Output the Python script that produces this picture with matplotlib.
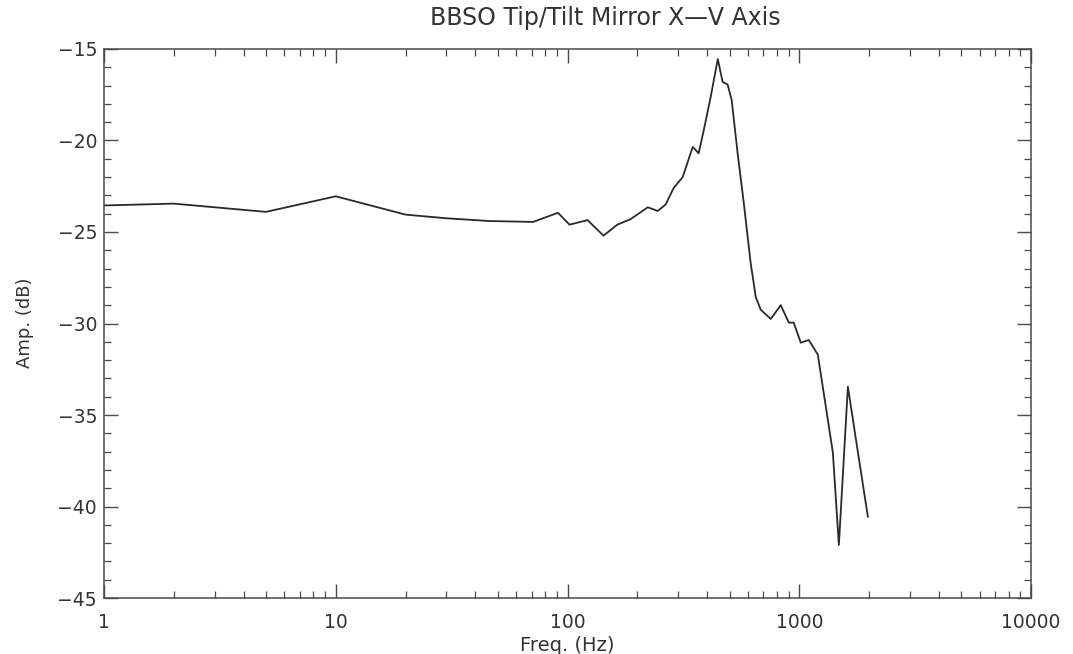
import matplotlib
matplotlib.use("Agg")
import matplotlib.pyplot as plt
from matplotlib.ticker import LogLocator, FixedLocator, MultipleLocator, NullFormatter

# Data
freq_hz = [1, 2, 5, 10, 20, 30, 46, 71, 91, 102, 122, 143, 164, 187, 222, 245, 265,
           287, 314, 347, 368, 387, 415, 445, 467, 491, 511, 542, 576, 617, 649, 682,
           753, 832, 901, 946, 1015, 1099, 1202, 1302, 1396, 1482, 1621, 1791, 1977]
amp_db = [-23.55, -23.45, -23.9, -23.05, -24.05, -24.25, -24.4, -24.45, -23.95, -24.6,
          -24.35, -25.2, -24.6, -24.3, -23.65, -23.85, -23.5,
          -22.6, -22.0, -20.35, -20.7, -19.45, -17.6, -15.55, -16.8, -16.95, -17.8,
          -20.7, -23.4, -26.7, -28.55, -29.25,
          -29.75, -29.0, -29.95, -29.95, -31.05, -30.9, -31.7, -34.55, -37.05, -42.1,
          -33.45, -37.05, -40.55]

x_major = [1, 10, 100, 1000, 10000]
x_labels = ["1", "10", "100", "1000", "10000"]
y_major = [-45, -40, -35, -30, -25, -20, -15]
y_labels = ["\u221245", "\u221240", "\u221235", "\u221230", "\u221225", "\u221220", "\u221215"]

title = "BBSO Tip/Tilt Mirror X\u2014V Axis"
xlabel = "Freq. (Hz)"
ylabel = "Amp. (dB)"

ink = "#2a2a2a"
axis_col = "#4a4a4a"

fig = plt.figure(figsize=(10.73, 6.54), dpi=100)
ax = fig.add_axes([0.0969, 0.0856, 0.864, 0.8395])

ax.plot(freq_hz, amp_db, color=ink, lw=1.3)

ax.set_xscale("log")
ax.set_xlim(1, 10000)
ax.set_ylim(-45, -15)

ax.xaxis.set_major_locator(FixedLocator(x_major))
ax.set_xticks(x_major)
ax.set_xticklabels(x_labels)
ax.xaxis.set_minor_locator(LogLocator(base=10, subs=range(2, 10), numticks=20))
ax.xaxis.set_minor_formatter(NullFormatter())

ax.set_yticks(y_major)
ax.set_yticklabels(y_labels)
ax.yaxis.set_minor_locator(MultipleLocator(1))

for s in ax.spines.values():
    s.set_color(axis_col)
    s.set_linewidth(1.1)

ax.tick_params(which="both", direction="in", top=True, right=True, colors=axis_col,
               labelcolor="#333333", labelsize=13.5)
ax.tick_params(which="major", length=10, width=1)
ax.tick_params(which="minor", length=5, width=0.9)
ax.tick_params(axis="x", which="major", pad=11)
ax.tick_params(axis="y", which="major", pad=5)

ax.set_xlabel(xlabel, fontsize=14, color="#333333", labelpad=3)
fig.text(25 / 1073, 1 - 323 / 654, ylabel, rotation=90, ha="center", va="center",
         fontsize=13, color="#333333")
fig.text(605 / 1073, 1 - 18 / 654, title, ha="center", va="center", fontsize=17,
         color="#333333")

fig.savefig("out.png", dpi=100, facecolor="white")
